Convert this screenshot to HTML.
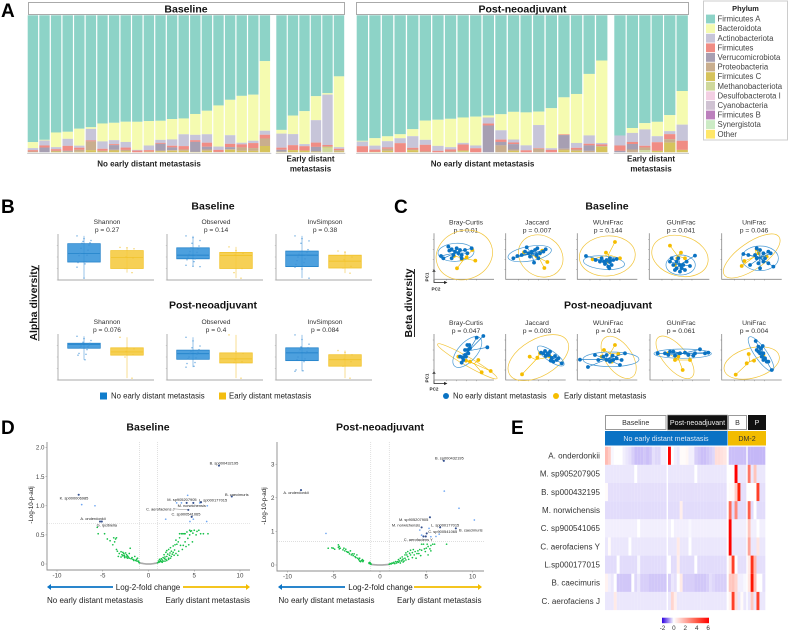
<!DOCTYPE html>
<html lang="en">
<head>
<meta charset="utf-8">
<title>Microbiome figure</title>
<style>
html,body{margin:0;padding:0;background:#fff;width:788px;height:631px;overflow:hidden}
svg{display:block;font-family:"Liberation Sans",Arial,sans-serif;filter:blur(0.3px)}
</style>
</head>
<body>
<svg id="fig" xmlns="http://www.w3.org/2000/svg" width="788" height="631" viewBox="0 0 788 631">
  <rect width="788" height="631" fill="#fff"/>
  <text x="1" y="17" font-size="19" font-weight="bold" fill="#000">A</text>
  <text x="1" y="213" font-size="19" font-weight="bold" fill="#000">B</text>
  <text x="394" y="213" font-size="19" font-weight="bold" fill="#000">C</text>
  <text x="1" y="434" font-size="19" font-weight="bold" fill="#000">D</text>
  <text x="511" y="434" font-size="19" font-weight="bold" fill="#000">E</text>

  <rect x="28.5" y="2.5" width="316" height="12" fill="#fff" stroke="#aaa"/>
  <text x="186" y="12.3" font-size="10.5" font-weight="bold" text-anchor="middle" fill="#111">Baseline</text>
  <rect x="356.5" y="2.5" width="332" height="12" fill="#fff" stroke="#aaa"/>
  <text x="522.5" y="12.3" font-size="10.5" font-weight="bold" text-anchor="middle" fill="#111">Post-neoadjuvant</text>
  <g font-size="8" font-weight="bold" text-anchor="middle" fill="#222">
    <text x="149" y="166.3">No early distant metastasis</text>
    <text x="310.5" y="161.5">Early distant</text>
    <text x="310.5" y="171.5">metastasis</text>
    <text x="482.5" y="166.3">No early distant metastasis</text>
    <text x="651" y="161.5">Early distant</text>
    <text x="651" y="171.5">metastasis</text>
  </g>
  <rect x="703.5" y="1" width="84" height="139" fill="#fff" stroke="#ccc"/>
  <text x="745.5" y="11" font-size="7.4" font-weight="bold" text-anchor="middle" fill="#222">Phylum</text>

  <text x="213" y="209.5" font-size="10.5" font-weight="bold" text-anchor="middle" fill="#111">Baseline</text>
  <text x="213" y="308.5" font-size="10.5" font-weight="bold" text-anchor="middle" fill="#111">Post-neoadjuvant</text>
  <text transform="translate(37,303) rotate(-90)" font-size="10.5" font-weight="bold" text-anchor="middle" fill="#111">Alpha diversity</text>
  <line x1="38.8" x2="38.8" y1="265" y2="341" stroke="#111" stroke-width="0.9"/>
  <rect x="100" y="392.5" width="7" height="7" fill="#0f7ccb"/>
  <text x="111" y="398.7" font-size="7.8" fill="#222">No early distant metastasis</text>
  <rect x="219" y="392.5" width="7" height="7" fill="#f3bd10"/>
  <text x="229" y="398.7" font-size="7.8" fill="#222">Early distant metastasis</text>

  <text x="607" y="209.5" font-size="10.5" font-weight="bold" text-anchor="middle" fill="#111">Baseline</text>
  <text x="608" y="308.5" font-size="10.5" font-weight="bold" text-anchor="middle" fill="#111">Post-neoadjuvant</text>
  <text transform="translate(412,303) rotate(-90)" font-size="10.5" font-weight="bold" text-anchor="middle" fill="#111">Beta diversity</text>
  <line x1="414.5" x2="414.5" y1="269" y2="337" stroke="#111" stroke-width="0.9"/>
  <circle cx="446" cy="396" r="3" fill="#0a72c2"/>
  <text x="453" y="398.7" font-size="7.8" fill="#222">No early distant metastasis</text>
  <circle cx="556" cy="396" r="3" fill="#f5bd00"/>
  <text x="564" y="398.7" font-size="7.8" fill="#222">Early distant metastasis</text>
  <g stroke="#222" stroke-width="0.8" fill="#222">
    <path d="M434 271V282.5H445" fill="none"/>
    <path d="M434 269.5l-1 2h2zM446.5 282.5l-2-1v2z"/>
    <path d="M434 373V383.5H445" fill="none"/>
    <path d="M434 371.5l-1 2h2zM446.5 383.5l-2-1v2z"/>
  </g>
  <g font-size="4.6" font-weight="bold" fill="#222" text-anchor="middle">
    <text transform="translate(428.5,277) rotate(-90)">PC1</text>
    <text x="436" y="290.5">PC2</text>
    <text transform="translate(428.5,378) rotate(-90)">PC1</text>
    <text x="434" y="390.5">PC2</text>
  </g>

  <text x="148" y="430.5" font-size="10.5" font-weight="bold" text-anchor="middle" fill="#111">Baseline</text>
  <text x="380" y="430.5" font-size="10.5" font-weight="bold" text-anchor="middle" fill="#111">Post-neoadjuvant</text>
  <text transform="translate(33,505) rotate(-90)" font-size="6.2" text-anchor="middle" fill="#222">-Log-10-p-adj</text>
  <text transform="translate(266,506) rotate(-90)" font-size="6.2" text-anchor="middle" fill="#222">-Log-10-p-adj</text>

  <g stroke-width="1.8" fill="none">
    <line x1="50" x2="113" y1="587" y2="587" stroke="#0b74c5"/>
    <line x1="183" x2="247" y1="587" y2="587" stroke="#f3bd00"/>
    <line x1="281" x2="345" y1="587" y2="587" stroke="#0b74c5"/>
    <line x1="414" x2="479" y1="587" y2="587" stroke="#f3bd00"/>
  </g>
  <path d="M47 587l4-3v6z" fill="#0b74c5"/>
  <path d="M250 587l-4-3v6z" fill="#f3bd00"/>
  <path d="M278 587l4-3v6z" fill="#0b74c5"/>
  <path d="M482 587l-4-3v6z" fill="#f3bd00"/>
  <g font-size="8" fill="#222">
    <text x="148" y="589.8" text-anchor="middle">Log-2-fold change</text>
    <text x="380.5" y="589.8" text-anchor="middle">Log-2-fold change</text>
    <text x="47" y="602.8">No early distant metastasis</text>
    <text x="250" y="602.8" text-anchor="end">Early distant metastasis</text>
    <text x="278.5" y="602.8">No early distant metastasis</text>
    <text x="481.5" y="602.8" text-anchor="end">Early distant metastasis</text>
  </g>

  <g font-size="7.1" text-anchor="middle">
    <rect x="605.5" y="415.5" width="60.5" height="14" fill="#fff" stroke="#999"/>
    <text x="635.7" y="425" fill="#333">Baseline</text>
    <rect x="667.5" y="415" width="60" height="15" fill="#111" stroke="#999" stroke-width="0.6"/>
    <text x="697.5" y="425" fill="#eee">Post-neoadjuvant</text>
    <rect x="728.5" y="415.5" width="18" height="14" fill="#fff" stroke="#999"/>
    <text x="737.5" y="425" fill="#333">B</text>
    <rect x="748" y="415" width="18" height="15" fill="#111"/>
    <text x="757" y="425" fill="#eee">P</text>
    <rect x="605" y="431" width="122.5" height="14.5" fill="#0a72c4"/>
    <text x="666" y="441" fill="#dfe9f5">No early distant metastasis</text>
    <rect x="728" y="431" width="38" height="14.5" fill="#f2bc00"/>
    <text x="747" y="441" fill="#333">DM-2</text>
  </g>
  <defs><linearGradient id="heatRamp" x1="0" x2="1" y1="0" y2="0"></linearGradient></defs>
  <rect x="662" y="617.7" width="47" height="5.5" fill="url(#heatRamp)"/>
</svg>

<script>
/* ---------- Panel A data: stacked composition (percent) ---------- */
const phylumNames = ["Firmicutes A","Bacteroidota","Actinobacteriota","Firmicutes","Verrucomicrobiota","Proteobacteria","Firmicutes C","Methanobacteriota","Desulfobacterota I","Cyanobacteria","Firmicutes B","Synergistota","Other"];
const phylumColors = ["#8dd3c7","#f5fbb0","#c7c5d9","#f08c84","#a79fb2","#c9ae8e","#d6c35c","#cfd89b","#f3cfe3","#d0c3d3","#bc80bd","#ccebc5","#ffe76a"];

const blFirmicutesA = [93,90.5,85.4,84.4,83,82.5,79,78.6,77.9,77.4,77.1,76.9,75.4,74.2,71.5,69.1,65.5,61.6,58.6,57.4,33.3, 83.2,72.5,69.8,60.6,57.2,44.5];
const blBacteroidota = [4.4,0.5,10.7,5.1,12.4,1.2,13.1,12.7,14.8,20.4,17.8,13.9,14.8,11.4,15.1,17,29.9,25.8,34.1,33.3,50.6, 2.7,13.4,24,18,1,51.6];
const blActinobacteriota = [1.5,3.6,1.5,5.1,1.5,8.5,5.4,2.9,4.1,0.5,3.4,2.2,4.6,8.5,3.9,6.1,2.4,6.3,1.2,1.7,2.9, 10.2,8,1.5,16.8,37,1.2];
const blFirmicutes = [1,1.5,1.2,3.6,1.5,0.7,1.5,0.7,1.7,1.2,1.2,0.7,1.2,2.4,1.2,2.9,1.5,2.4,2.2,3.6,2.7, 1.5,3.6,3.2,3.2,1,1];
const blVerrucomicrobiota = [0,3.4,0,0.7,0,0,0,3.4,0,0,0,4.9,2,0,7.3,2,0,1.5,0,0,0, 1.5,0,0,3.5,0,0];
const blProteobacteria = [0.5,0,0.5,0,1.5,6.5,0.5,0.5,1,0,0,0.5,0.5,1,0,1,0.2,0.5,2.5,2,5.5, 0,0,0,0,0.5,1];
const blFirmicutesC = [0,0,0.5,0.3,0.3,1.5,0.5,1.3,0.7,0,0.3,0.7,1,1,0.2,1,0,1.7,1,1,4.5, 0.3,1.5,1.2,0.5,0.3,0.5];
const blMethanobacteriota = [0,0,0,0,0,0,0,0,0,0,0,0,0,0,0,0,0,0,0,0,0, 0,0,0,0,3.5,0];

const pnFirmicutesA = [91.5,89.5,89,86.8,83.2,76.6,75.9,75.6,74.4,73.7,73,72.2,71.5,70.7,70.2,67.3,59.8,57.8,42.9,32.9, 87.6,82.4,79,77.8,72.9,54.9];
const pnBacteroidota = [0.5,5.4,3.6,2.9,5.1,14,19,20.7,18.5,21,1.5,11.7,20.5,24,9.8,29,27,36,45,60, 0,3.6,4.6,10.5,11.7,24.4];
const pnActinobacteriota = [3.4,2.9,4.6,3.6,8.5,3.6,3.6,1.7,1.2,2,4.4,6.8,2.2,3.6,16.8,1.2,0,3.6,6.1,1, 7.3,6.6,12,4.4,2.2,11.7];
const pnFirmicutes = [4.4,1.7,1,6.6,1.2,4.9,1,1.5,4.4,2.9,1.4,1.7,1.2,1.4,0.5,1.7,0.5,1.2,1.2,1.2, 3.9,1.5,1.2,6.3,3.7,6.6];
const pnVerrucomicrobiota = [0,0,0,0,0,0,0,0,0,0,19.5,2.5,4,0,0,0,10,0,4,0, 1,4,0,0,0,0];
const pnProteobacteria = [0,0,1.5,0,0.5,0.5,0,0.5,0,0,0,5,1,0,2.5,0,1,1,1,0.5, 0,2,2,0,2.5,0];
const pnFirmicutesC = [0,0.2,1,0,1.5,0,0,0,0.7,0,0,0,1,0,0,0,1.5,1,0,4, 0,0,0,1,7,1.7];
const pnMethanobacteriota = [0,0,0,0,0,0,0,0,0.5,0,0,0,0,0,0,0,0,0,0,0, 0,0,1.5,0,0,0];

/* ---------- Panel B data: alpha diversity (scaled 0-100) ---------- */
const alphaMetrics = ["Shannon","Observed","InvSimpson","Shannon","Observed","InvSimpson"];
const alphaPValues = ["p = 0.27","p = 0.14","p = 0.38","p = 0.076","p = 0.4","p = 0.084"];
const alphaBlueStats = [[4,39,58,79,96],[29,46,54,70,96],[4,29,54,63,96],[44,69,77,80,95],[28,45,57,65,93],[19,42,59,70,98]];
const alphaYellowStats = [[16,25,49,64,71],[4,25,53,60,72],[15,26,41,54,63],[4,54,61,70,93],[4,37,46,59,98],[4,30,44,55,64]];
const alphaBluePoints = [
  [96,90,86,84,81,80,76,69,65,58,54,53,40,38,35,28,4],
  [96,92,86,80,74,70,68,62,60,56,54,50,46,44,40,32,30,29],
  [96,90,85,80,66,62,60,56,54,50,46,42,38,34,30,28,24,4],
  [95,90,86,82,80,78,76,74,72,70,66,58,56,54,44],
  [93,85,74,70,66,62,60,58,56,50,48,46,38,36,30,28],
  [98,88,78,72,70,66,62,60,58,50,46,44,40,22,20,19]];
const alphaYellowPoints = [
  [71,70,68,50,48,25,16],[72,64,58,54,25,16,4],[63,60,50,44,30,26,15],
  [93,70,68,62,55,50,4],[98,62,58,44,40,38,4],[64,60,55,45,40,30,4]];

/* ---------- Panel C data: ordination scores ---------- */
const betaMetrics = ["Bray-Curtis","Jaccard","WUniFrac","GUniFrac","UniFrac","Bray-Curtis","Jaccard","WUniFrac","GUniFrac","UniFrac"];
const betaPValues = ["p = 0.01","p = 0.007","p = 0.144","p = 0.041","p = 0.046","p = 0.047","p = 0.003","p = 0.14","p = 0.061","p = 0.004"];
const betaBlueScores = [
 [[21,70],[28,63],[43,98],[53,90],[63,83],[73,78],[83,73],[68,93],[93,88],[113,93],[58,73],[83,63],[53,63],[78,88],[100,78],[46,86]],
 [[23,63],[35,70],[48,73],[63,96],[68,78],[78,83],[88,88],[95,93],[85,50],[93,73],[103,78],[113,83],[120,90],[73,68],[58,83],[98,63]],
 [[26,70],[55,58],[73,63],[88,58],[98,53],[83,46],[93,38],[103,43],[108,58],[68,53],[98,63],[118,61],[96,33],[80,53]],
 [[67,63],[62,53],[72,43],[82,33],[92,23],[107,28],[122,40],[137,71],[92,43],[102,43],[82,53],[87,63],[112,53],[77,28],[97,33]],
 [[65,76],[80,73],[105,93],[115,88],[125,78],[140,83],[147,78],[105,63],[125,53],[140,48],[155,38],[85,43],[115,33],[100,73],[130,63],[110,48]],
 [[128,127],[148,132],[160,98],[100,105],[108,95],[93,90],[103,80],[96,70],[88,60],[83,52],[78,70],[100,90],[106,105],[93,75],[86,67]],
 [[106,82],[118,87],[128,75],[138,65],[143,55],[153,60],[168,50],[120,72],[133,85],[148,72],[158,65],[135,58],[113,80],[126,80]],
 [[8,61],[32,39],[53,75],[78,70],[88,75],[108,60],[128,45],[143,80],[98,55],[118,65],[63,60],[88,60],[133,60],[106,73]],
 [[23,80],[45,80],[70,85],[90,80],[115,75],[135,80],[150,92],[165,80],[175,82],[55,75],[75,73],[105,82],[130,73],[60,85]],
 [[102,117],[110,100],[123,102],[105,90],[115,80],[120,70],[125,60],[135,55],[150,30],[130,65],[110,85],[140,55],[117,95],[125,80]]];
const betaYellowScores = [
 [[69,33],[124,56],[98,66],[115,88],[83,60],[60,70]],
 [[116,34],[125,52],[110,86],[55,81],[93,68]],
 [[113,112],[86,80],[46,60],[128,63],[93,53]],
 [[62,101],[95,80],[84,63],[107,63],[77,43]],
 [[60,40],[68,55],[105,90],[135,68],[110,78]],
 [[170,27],[143,23],[133,60],[96,58],[73,70],[108,55]],
 [[49,17],[72,70],[95,67],[103,80],[133,70]],
 [[113,105],[80,90],[123,78],[103,55],[73,70]],
 [[98,30],[75,60],[55,80],[120,60],[85,70]],
 [[42,16],[75,50],[97,58],[81,78],[125,75]]];
/* confidence ellipses: centre x, centre y, semi-major, semi-minor, angle (deg) */
const betaBlueEllipses = [[66,81,54,27,3],[72,77,66,22,10],[80,50,62,20,-5],[94,43,44,30,0],[115,63,55,37,0],[100,84,57,28,48],[135,72,48,15,-35],[101,62,84,22,0],[98,79,86,14,0],[118,78,62,18,-55]];
const betaYellowEllipses = [[91,73,86,73,20],[105,70,70,60,-35],[90,70,84,60,5],[92,70,86,60,-15],[90,70,100,40,35],[100,56,103,13,-30],[98,67,100,55,30],[124,68,72,40,-55],[75,68,78,35,-50],[90,51,85,45,15]];

/* ---------- Panel D data: volcano (log2 fold change, -log10 p-adj) ---------- */
const volBaseGreen = [[-5.6,.63],[-5.5,.52],[-4.8,.52],[-4.5,.43],[-4.2,.4],[-3.9,.33],[-3.6,.43],[-3.5,.45],[-3.7,.38],[-3.8,.45],[-3.5,.25],[-3.4,.22],[-3.2,.18],[-3,.21],[-2.9,.16],[-2.8,.2],[-2.7,.18],[-2.65,.15],[-2.6,.13],[-2.5,.19],[-2.4,.16],[-2.4,.12],[-2.3,.14],[-2.2,.12],[-2.1,.18],[-2.1,.1],[-2,.27],[-1.9,.09],[-1.8,.11],[-1.7,.08],[-1.6,.07],[-1.5,.13],[-1.4,.06],[-1.3,.08],[-1.25,.05],[-1.2,.1],[-1.1,.05],[-1.05,.03],[-1,.02],[-1.6,.06],[-2.6,.11],[-2.3,.1],[-2.8,.14],[-3.3,.13],[-3,.12],
 [1,.02],[1.1,.05],[1.15,.03],[1.2,.08],[1.25,.04],[1.3,.06],[1.4,.09],[1.4,.04],[1.5,.07],[1.6,.11],[1.6,.05],[1.7,.16],[1.75,.09],[1.8,.12],[1.9,.2],[1.9,.08],[2,.13],[2,.23],[2.1,.17],[2.2,.1],[2.2,.25],[2.3,.15],[2.35,.19],[2.4,.28],[2.5,.22],[2.5,.13],[2.6,.17],[2.7,.31],[2.7,.2],[2.8,.15],[2.85,.24],[2.9,.33],[3,.18],[3,.41],[3.1,.34],[3.2,.15],[3.25,.38],[3.3,.22],[3.4,.45],[3.4,.52],[3.5,.32],[3.6,.52],[3.7,.25],[3.75,.52],[3.8,.32],[3.9,.52],[4,.52],[4,.38],[4.1,.3],[4.2,.55],[4.3,.44],[4.4,.33],[4.5,.58],[4.5,.5],[4.6,.56],[4.7,.57],[4.8,.38],[4.85,.53],[5,.58],[5.2,.5],[5.3,.56],[5.5,.58],[5.7,.52],[6,.52],[6.5,.52],[2.2,.08],[1.5,.03],[1.8,.05],[2,.06],[2.4,.1]];
const volBaseGray = [[-.95,.02],[-.85,.015],[-.75,.012],[-.65,.01],[-.55,.006],[-.45,.004],[-.35,.002],[-.25,0],[-.15,0],[-.05,0],[.05,0],[.15,0],[.25,0],[.35,.002],[.45,.004],[.55,.006],[.65,.01],[.75,.012],[.85,.015],[.95,.02]];
const volBaseLight = [[-7.3,1.02],[-5.85,1],[4.28,1.18],[3.08,1.05],[3.6,1.05],[5.6,1.05],[6.43,1],[1.88,.77],[4.53,.73],[4.9,.77],[6.36,.73]];
const volBaseDark = [[-7.63,1.19],[-5.3,.73],[-5.1,.73],[7.7,1.69],[9.1,1.16],[4.17,1.05],[5.74,1.06],[4.9,1.05],[4.35,.93],[4.72,.81]];
const volBaseNames = ["K. sp000006985","A. onderdonkii","G. ipcibiella","B. sp000432195","B. caecimuris","M. sp905207905","L. sp000177015","M. norwichensis","C. aerofaciens J","C. sp900541065"];

const volPostGreen = [[-5.6,.5],[-5.2,.51],[-5.05,.5],[-4.9,.47],[-4.5,.6],[-4.5,.53],[-4.4,.48],[-4.4,.55],[-4.3,.5],[-4,.45],[-3.9,.5],[-3.8,.42],[-3.7,.47],[-3.6,.4],[-3.5,.38],[-3.4,.38],[-3.3,.33],[-3.2,.42],[-3.1,.3],[-3,.33],[-2.9,.28],[-2.8,.33],[-2.7,.25],[-2.6,.22],[-2.5,.3],[-2.4,.2],[-2.3,.16],[-2.2,.2],[-2.2,.12],[-2.1,.1],[-2,.13],[-1.9,.16],[-1.85,.1],[-1.8,.13],[-1.2,.06],[-1.15,.04],[-1.1,.08],[-1.05,.05],[-1,.04],[-.98,.02],
 [1,.02],[1.1,.04],[1.2,.03],[1.3,.06],[1.4,.05],[1.5,.08],[1.6,.04],[1.7,.1],[1.8,.06],[1.9,.1],[2,.08],[2,.16],[2.1,.12],[2.2,.2],[2.2,.06],[2.3,.12],[2.4,.24],[2.4,.15],[2.5,.09],[2.5,.18],[2.6,.12],[2.7,.3],[2.7,.2],[2.8,.15],[2.8,.36],[2.9,.3],[3,.25],[3,.4],[3.1,.17],[3.2,.35],[3.3,.3],[3.3,.44],[3.5,.37],[3.5,.22],[3.6,.46],[3.7,.3],[3.8,.4],[3.9,.2],[4,.34],[4.1,.42],[4.2,.34],[4.3,.46],[4.4,.28],[4.5,.44],[4.5,.62],[4.7,.62],[4.8,.48],[4.9,.4],[5,.5],[5.1,.62],[5.2,.55],[5.4,.48],[5.5,.58],[5.7,.62],[5.9,.62],[5.2,.3],[5.5,.42],[7.2,.62]];
const volPostGray = [[-.95,.02],[-.85,.015],[-.75,.012],[-.65,.01],[-.55,.006],[-.45,.004],[-.35,.002],[-.25,0],[-.15,0],[-.05,0],[.05,0],[.15,0],[.25,0],[.35,.002],[.45,.004],[.55,.006],[.65,.01],[.75,.012],[.85,.015],[.95,.02]];
const volPostLight = [[-5.84,.94],[6.95,2.2],[8.54,1.69],[10.2,1.34],[4.3,1.04],[5.3,1.09],[4.5,.89],[5.5,.84],[6.05,.85],[6.4,.92]];
const volPostDark = [[-8.54,2.23],[6.9,3.1],[5.4,1.42],[4.5,1.12],[6.5,1.12],[8.2,1.09],[5.05,.94],[4.7,.85],[4.95,.85]];
const volPostNames = ["A. onderdonkii","B. sp000432195","M. sp905207905","M. norwichensis","L. sp000177015","B. caecimuris","C. sp900541065","C. aerofaciens Y",""];

const volXTicks = [-10,-5,0,5,10];
const volBaseYTicks = [0,0.5,1,1.5,2];
const volBaseYTickLabels = ["0","0.5","1.0","1.5","2.0"];
const volPostYTicks = [0,1,2,3];
const volPostYTickLabels = ["0","1","2","3"];

/* ---------- Panel E data: scaled abundance ---------- */
const heatRowNames = ["A. onderdonkii","M. sp905207905","B. sp000432195","M. norwichensis","C. sp900541065","C. aerofaciens Y","L.sp000177015","B. caecimuris","C. aerofaciens J"];
const heatOnderdonkii = [1.6,1.2,-.05,0,0,0,-.1,-.15,-.2,-.3,-.4,-.4,-.4,-.35,-.4,-.35,-.2,-.25,-.25,-.1,-.1, 6,.02,-.1,-.15,.1,.1,.2,-.1,-.1,-.3,-.35,-.4,-.4,-.35,-.3,-.25,.8,.8,.7,.6, -.4,-.4,-.4,-.4,-.4,-.4, -.45,-.45,-.45,-.45,-.45,-.45];
const heatSp905 = [-.15,-.15,-.15,-.15,-.15,-.15,-.15,-.15,-.15,-.15,0,-.15,-.15,-.15,-.15,-.15,-.15,-.15,-.15,-.15,-.15, -.15,-.15,-.15,-.15,-.15,-.15,-.15,-.15,-.15,0,-.15,-.15,-.15,-.15,-.15,-.15,-.15,-.15,-.15,-.15, 0,.05,6,-.15,-.15,-.15, 3.2,-.15,1.4,-.15,-.15,-.15];
const heatSp000432 = [.1,-.2,-.2,-.2,-.2,-.2,-.2,-.2,-.2,-.2,-.2,-.2,-.2,-.2,-.2,-.2,-.2,-.2,-.2,-.2,-.2, -.2,-.2,-.2,-.2,-.2,-.2,-.2,-.2,-.2,-.2,-.2,-.2,-.2,-.2,-.2,-.2,-.2,-.2,-.2,-.2, .1,.15,1.2,5.2,-.2,-.2, 0,0,0,4.5,-.2,-.2];
const heatNorwichensis = [-.22,-.22,-.22,-.22,-.22,-.22,-.22,-.22,-.22,-.22,-.22,-.22,-.22,-.22,-.22,-.22,-.22,-.22,-.22,-.22,-.22, -.22,-.22,-.22,-.22,.4,-.22,-.22,-.22,-.22,-.22,-.22,-.22,-.22,-.22,-.22,-.22,-.22,-.22,-.22,-.22, 3.5,-.22,2.8,-.22,-.22,-.22, 3.8,-.22,0,-.22,-.22,-.22];
const heatSp900 = [-.1,-.1,-.1,-.1,-.1,-.1,-.1,-.1,-.1,-.1,-.1,0,-.1,-.1,-.1,-.1,-.1,-.1,-.1,-.1,-.1, -.1,0,-.1,-.1,-.1,-.1,-.1,-.05,-.1,-.1,-.1,-.1,-.1,-.1,-.1,-.1,-.1,-.1,-.1,-.1, 6,-.1,-.1,-.1,-.1,-.1, 1.4,-.1,-.1,0,-.1,-.1];
const heatAeroY = [-.15,.1,-.15,-.15,-.15,-.15,-.15,-.15,0,-.15,-.15,-.15,-.15,-.15,-.15,-.15,-.15,-.15,-.15,-.15,-.15, -.15,-.15,-.15,.5,-.15,-.15,-.15,0,-.15,-.15,-.15,-.15,-.15,-.15,-.15,-.15,-.15,-.15,-.15,-.15, 6,-.15,-.15,-.15,-.15,-.15, 2.2,-.15,-.15,.6,-.15,-.15];
const heatSp000177 = [-.22,-.22,-.22,-.22,0,-.22,-.22,-.22,-.22,-.22,-.22,-.05,-.22,-.22,-.22,-.22,-.22,-.22,-.22,-.22,-.22, 0,-.22,-.22,.4,-.22,-.22,-.22,-.22,-.22,0,-.22,-.22,-.22,-.22,-.22,-.22,-.22,-.22,-.22,-.22, .6,4.5,0,-.2,-.2,-.2, .5,4.8,1.6,-.2,-.2,-.2];
const heatCaecimuris = [.3,-.1,-.15,0,-.35,-.35,-.35,-.35,-.35,0,-.25,-.15,-.3,-.3,-.3,-.35,-.35,-.35,-.35,-.35,-.35, -.3,-.15,-.2,0,.5,-.3,-.3,-.3,-.3,-.35,-.35,-.35,-.35,-.3,-.2,-.25,-.3,-.3,-.3,-.3, 1.3,1.4,1,-.1,-.1,-.05, .6,5.5,1.5,0,0,-.2];
const heatAeroJ = [-.15,-.15,-.15,.5,-.15,-.15,-.15,-.15,-.15,-.15,-.15,-.15,-.15,-.15,-.15,-.15,-.15,-.15,-.15,-.15,-.15, -.15,1,.4,-.15,-.15,-.15,-.15,-.15,-.15,-.15,-.15,-.15,-.15,-.15,-.15,-.15,-.15,-.15,-.15,-.15, .3,4.5,.8,-.15,.1,-.15, -.15,1.3,-.15,4.5,-.15,-.15];
const heatColorbarTicks = [-2,0,2,4,6];

/* ---------- helpers ---------- */
const NS = "http://www.w3.org/2000/svg";
const svg = document.getElementById("fig");
function mk(parent, tag, attrs, text) {
  const n = document.createElementNS(NS, tag);
  for (const k in attrs) n.setAttribute(k, attrs[k]);
  if (text !== undefined) n.textContent = text;
  parent.appendChild(n);
  return n;
}

/* ---------- Panel A ---------- */
function drawStacks(label, series, noDmCount, noDmX, noDmPitch, earlyX, earlyPitch, barW) {
  const yTop = 15.3, yBot = 152.2;
  const yAt = f => yTop + f * (yBot - yTop);
  const n = series[0].length;
  for (let i = 0; i < n; i++) {
    const x = i < noDmCount ? noDmX + i * noDmPitch : earlyX + (i - noDmCount) * earlyPitch;
    let total = 0;
    series.forEach(s => total += s[i]);
    let acc = 0;
    series.forEach((s, k) => {
      if (s[i] <= 0) return;
      const r = mk(svg, "rect", {x: x, y: yAt(acc / total), width: barW, height: yAt((acc + s[i]) / total) - yAt(acc / total) + 0.05, fill: phylumColors[k]});
      
      
      acc += s[i];
    });
  }
  const a1 = mk(svg, "line", {x1: noDmX - 0.5, x2: noDmX + noDmCount * noDmPitch, y1: 153.4, y2: 153.4, stroke: "#c4c4c4", "stroke-width": 1});
  
  
  const a2 = mk(svg, "line", {x1: earlyX - 0.5, x2: earlyX + (n - noDmCount) * earlyPitch, y1: 153.4, y2: 153.4, stroke: "#c4c4c4", "stroke-width": 1});
  
  
}
drawStacks("baseline", [blFirmicutesA, blBacteroidota, blActinobacteriota, blFirmicutes, blVerrucomicrobiota, blProteobacteria, blFirmicutesC, blMethanobacteriota], 21, 27.7, 11.6, 276.3, 11.5, 10.4);
drawStacks("post", [pnFirmicutesA, pnBacteroidota, pnActinobacteriota, pnFirmicutes, pnVerrucomicrobiota, pnProteobacteria, pnFirmicutesC, pnMethanobacteriota], 20, 356.7, 12.6, 614.3, 12.45, 11.3);

phylumNames.forEach((name, i) => {
  const cy = 19 + i * 9.6;
  const sw = mk(svg, "rect", {x: 706, y: cy - 4.4, width: 9, height: 8.8, fill: phylumColors[i]});
  
  
  const t = mk(svg, "text", {x: 717.5, y: cy + 2.6, "font-size": 7.8, fill: "#444"}, name);
  
  
});

/* ---------- Panel B ---------- */
const alphaX0 = [58, 167, 276, 58, 167, 276];
const alphaBottom = [280, 280, 280, 380, 380, 380];
function drawBox(g, name, cx, stats, pts, yAt, fill, stroke, dot) {
  const w = 32.6;
  const whisk = mk(g, "line", {x1: cx, x2: cx, y1: yAt(stats[0]), y2: yAt(stats[4]), stroke: dot, "stroke-width": 0.7, opacity: 0.75});
  
  
  const box = mk(g, "rect", {x: cx - w / 2, y: yAt(stats[3]), width: w, height: yAt(stats[1]) - yAt(stats[3]), fill: fill, "fill-opacity": 0.85, stroke: stroke, "stroke-width": 0.7});
  
  
  const med = mk(g, "line", {x1: cx - w / 2, x2: cx + w / 2, y1: yAt(stats[2]), y2: yAt(stats[2]), stroke: stroke, "stroke-width": 0.7});
  
  
  pts.forEach((v, i) => {
    const c = mk(g, "circle", {cx: cx + ((i * 37) % 15) - 7, cy: yAt(v), r: 0.75, fill: dot, opacity: 0.7});
    
    
  });
}
alphaMetrics.forEach((m, p) => {
  const x0 = alphaX0[p], yb = alphaBottom[p], yt = yb - 46;
  const yAt = v => yb - v * 0.46;
  const g = mk(svg, "g", {});
  
  
  const t1 = mk(g, "text", {x: x0 + 49, y: yt - 10, "font-size": 6.7, fill: "#333", "text-anchor": "middle"}, m);
  
  
  const t2 = mk(g, "text", {x: x0 + 49, y: yt - 2, "font-size": 6.7, fill: "#333", "text-anchor": "middle"}, alphaPValues[p]);
  
  
  const ax = mk(g, "path", {d: "M" + x0 + " " + yt + "V" + yb + "H" + (x0 + 96), fill: "none", stroke: "#a8a8a8", "stroke-width": 0.9});
  
  
  [0, 25, 50, 75].forEach(v => {
    const tk = mk(g, "line", {x1: x0 - 1.2, x2: x0, y1: yAt(v), y2: yAt(v), stroke: "#aaa", "stroke-width": 0.5});
    
    
  });
  drawBox(g, 'alpha-blue', x0 + 26, alphaBlueStats[p], alphaBluePoints[p], yAt, "#2e8fd8", "#1a7cc6", "#3b8fd6");
  drawBox(g, 'alpha-yellow', x0 + 69, alphaYellowStats[p], alphaYellowPoints[p], yAt, "#f5c837", "#f0bf20", "#f1c232");
});

/* ---------- Panel C ---------- */
const betaX0 = [434, 505.7, 577.3, 649.3, 721.7, 434, 505.7, 577.3, 650, 721.7];
const betaTitleX = [466, 537, 608, 681, 754, 466, 537, 608, 681, 754];
const betaBottom = [279.3, 279.3, 279.3, 279.3, 279.3, 380, 380, 380, 380, 380];
betaMetrics.forEach((m, p) => {
  const x0 = betaX0[p], yb = betaBottom[p], yt = yb - 46;
  const xAt = v => x0 + v / 3, yAt = v => yb - v / 3;
  const g = mk(svg, "g", {});
  
  
  const t1 = mk(g, "text", {x: betaTitleX[p], y: yt - 9, "font-size": 6.8, fill: "#333", "text-anchor": "middle"}, m);
  
  
  const t2 = mk(g, "text", {x: betaTitleX[p], y: yt - 1, "font-size": 6.8, fill: "#333", "text-anchor": "middle"}, betaPValues[p]);
  
  
  const ax = mk(g, "path", {d: "M" + x0 + " " + yt + "V" + yb + "H" + (x0 + 60), fill: "none", stroke: "#888", "stroke-width": 0.8});
  
  
  [30, 60, 90, 120].forEach(v => {
    const tk = mk(g, "line", {x1: x0 - 1.2, x2: x0, y1: yAt(v), y2: yAt(v), stroke: "#888", "stroke-width": 0.5});
    
    
    const tx = mk(g, "line", {x1: xAt(v + 8), x2: xAt(v + 8), y1: yb, y2: yb + 1.2, stroke: "#888", "stroke-width": 0.5});
    
    
  });
  [[betaYellowEllipses[p], "#f2c53a", "yellow"], [betaBlueEllipses[p], "#4a9ad4", "blue"]].forEach(item => {
    const e = item[0];
    const cx = xAt(e[0]), cy = yAt(e[1]);
    const el = mk(g, "ellipse", {cx: cx, cy: cy, rx: e[2] / 3, ry: e[3] / 3, fill: "none", stroke: item[1], "stroke-width": 0.7, transform: "rotate(" + (-e[4]) + " " + cx + " " + cy + ")"});
    
    
  });
  [[betaYellowScores[p], "#f5bd00", "yellow"], [betaBlueScores[p], "#0a72c2", "blue"]].forEach(item => {
    const pts = item[0];
    const mx = pts.reduce((a, q) => a + q[0], 0) / pts.length;
    const my = pts.reduce((a, q) => a + q[1], 0) / pts.length;
    pts.forEach(q => {
      const sp = mk(g, "line", {x1: xAt(mx), y1: yAt(my), x2: xAt(q[0]), y2: yAt(q[1]), stroke: item[1], "stroke-width": 0.6});
      
      
    });
    pts.forEach(q => {
      const c = mk(g, "circle", {cx: xAt(q[0]), cy: yAt(q[1]), r: 1.9, fill: item[1]});
      
      
    });
  });
});

/* ---------- Panel D ---------- */
function drawVolcano(cfg) {
  const xAt = v => cfg.x0 + cfg.sx * v, yAt = v => cfg.y0 - cfg.sy * v;
  const g = mk(svg, "g", {});
  
  
  [-1, 1].forEach(v => {
    const d = mk(g, "line", {x1: xAt(v), x2: xAt(v), y1: cfg.top, y2: cfg.bottom, stroke: "#ccc", "stroke-width": 0.6, "stroke-dasharray": "1 1"});
    
    
  });
  const h = mk(g, "line", {x1: cfg.left, x2: cfg.right, y1: yAt(0.7), y2: yAt(0.7), stroke: "#ccc", "stroke-width": 0.6, "stroke-dasharray": "1 1"});
  
  
  const ax = mk(g, "path", {d: "M" + cfg.left + " " + cfg.top + "V" + cfg.bottom + "H" + cfg.right, fill: "none", stroke: "#8c8c8c", "stroke-width": 0.9});
  
  
  volXTicks.forEach(v => {
    const tk = mk(g, "line", {x1: xAt(v), x2: xAt(v), y1: cfg.bottom, y2: cfg.bottom + 1.5, stroke: "#888", "stroke-width": 0.5});
    
    
    const l = mk(g, "text", {x: xAt(v), y: cfg.bottom + 7.5, "font-size": 6.2, fill: "#444", "text-anchor": "middle"}, String(v));
    
    
  });
  cfg.yTicks.forEach((v, i) => {
    const tk = mk(g, "line", {x1: cfg.left - 1.5, x2: cfg.left, y1: yAt(v), y2: yAt(v), stroke: "#888", "stroke-width": 0.5});
    
    
    const l = mk(g, "text", {x: cfg.left - 2.5, y: yAt(v) + 2.1, "font-size": 6.2, fill: "#444", "text-anchor": "end"}, cfg.yLabels[i]);
    
    
  });
  cfg.gray.forEach(q => {
    const c = mk(g, "circle", {cx: xAt(q[0]), cy: yAt(q[1]), r: 0.9, fill: "#aaa"});
    
    
  });
  cfg.green.forEach(q => {
    const c = mk(g, "circle", {cx: xAt(q[0]), cy: yAt(q[1]), r: 0.85, fill: "#15c048"});
    
    
  });
  cfg.light.forEach(q => {
    const c = mk(g, "circle", {cx: xAt(q[0]), cy: yAt(q[1]), r: 0.85, fill: "#6ea6f2"});
    
    
  });
  cfg.dark.forEach((q, i) => {
    const c = mk(g, "circle", {cx: xAt(q[0]), cy: yAt(q[1]), r: 1.05, fill: "#34508f"});
    
    
    if (!cfg.names[i]) return;
    const off = cfg.offsets[i];
    const t = mk(g, "text", {x: xAt(q[0]) + off[0], y: yAt(q[1]) + off[1] + 1.4, "font-size": 3.95, fill: "#222", "text-anchor": "middle"}, cfg.names[i]);
    
    
    if (off[2]) {
      const ln = mk(g, "line", {x1: xAt(q[0]) + off[0] + 14, y1: yAt(q[1]) + off[1], x2: xAt(q[0]), y2: yAt(q[1]), stroke: "#555", "stroke-width": 0.35});
      
      
    }
  });
}
drawVolcano({name: "volcano-baseline", x0: 148.5, sx: 9.15, y0: 564, sy: 58.2, left: 47, right: 250, top: 442, bottom: 570,
  yTicks: volBaseYTicks, yLabels: volBaseYTickLabels, green: volBaseGreen, gray: volBaseGray, light: volBaseLight, dark: volBaseDark, names: volBaseNames,
  offsets: [[-4.7,3.3],[-7,-2.8],[5,3.5],[5,-2.7],[5,-1.8],[-4.7,-3.2],[12,-2.3],[-1.6,2.8],[-28,-1,1],[-5.7,-3]]});
drawVolcano({name: "volcano-post", x0: 380, sx: 9.25, y0: 565, sy: 33.6, left: 277, right: 484, top: 442, bottom: 571,
  yTicks: volPostYTicks, yLabels: volPostYTickLabels, green: volPostGreen, gray: volPostGray, light: volPostLight, dark: volPostDark, names: volPostNames,
  offsets: [[-5,2.7],[5.5,-2.5],[-16.3,2.4],[-15.6,-2.4],[5,-2.4],[15,1.6],[16,-1.7],[-5.2,3],[0,0]]});

/* ---------- Panel E ---------- */
function heatColor(v) {
  if (v < 0) {
    const t = Math.min(1, -v / 2);
    const k = Math.min(1, t * 1.25);
    return "rgb(" + Math.round(255 - 210 * k) + "," + Math.round(255 - 255 * k) + "," + Math.round(255 - 30 * k) + ")";
  }
  const t = Math.min(1, v / 6);
  return "rgb(255," + Math.round(255 * (1 - t)) + "," + Math.round(255 * Math.max(0, 1 - t * 1.12)) + ")";
}
const heatRows = [heatOnderdonkii, heatSp905, heatSp000432, heatNorwichensis, heatSp900, heatAeroY, heatSp000177, heatCaecimuris, heatAeroJ];
const heatGroupStart = [605, 668, 728.7, 747.7];
const heatGroupCounts = [21, 20, 6, 6];
const heatCellW = 2.93, heatTop = 446.7, heatRowH = 18.15;
function heatX(col) {
  let c = col;
  for (let g = 0; g < heatGroupCounts.length; g++) {
    if (c < heatGroupCounts[g]) return heatGroupStart[g] + c * heatCellW;
    c -= heatGroupCounts[g];
  }
  return 0;
}
heatRows.forEach((row, r) => {
  row.forEach((v, c) => {
    const cell = mk(svg, "rect", {x: heatX(c), y: heatTop + r * heatRowH, width: heatCellW + 0.05, height: heatRowH + 0.05, fill: heatColor(v)});
    
    
  });
  const l = mk(svg, "text", {x: 600, y: heatTop + (r + 0.5) * heatRowH + 2.8, "font-size": 8, "letter-spacing": 0.04, fill: "#333", "text-anchor": "end"}, heatRowNames[r]);
  
  
});
const ramp = document.getElementById("heatRamp");
heatColorbarTicks.forEach(v => {
  mk(ramp, "stop", {offset: (v + 2) / 8, "stop-color": heatColor(v)});
  const l = mk(svg, "text", {x: 662.5 + (v + 2) * 5.7, y: 630, "font-size": 6.3, fill: "#333", "text-anchor": "middle"}, String(v));
  
  
});
</script>
</body>
</html>
